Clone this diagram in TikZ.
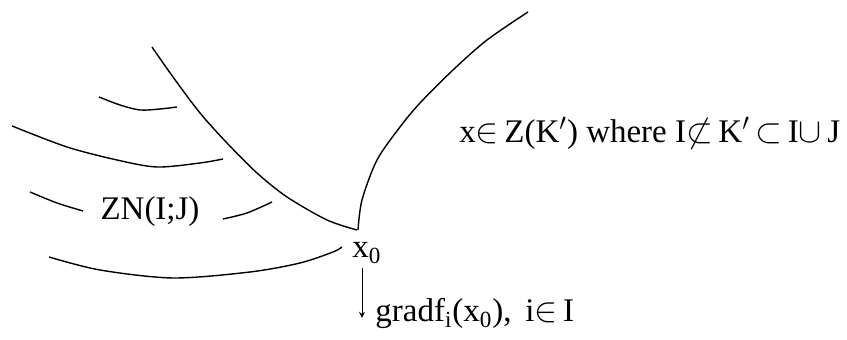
\documentclass[tikz,border=0pt]{standalone}
\usepackage{fontspec}
\setmainfont{Liberation Serif}

\tikzset{
	curve/.style={line width=0.7pt},
	lbl/.style={inner sep=0pt, font=\fontsize{16.5}{19}\selectfont},
}

\begin{document}
\begin{tikzpicture}[x=0.5pt,y=-0.5pt]
	\useasboundingbox (0,0) rectangle (847,340);
	% boundaries meeting at x_0
	\draw[curve] plot[smooth] coordinates {(152,47) (173,77) (200,113) (227,143) (257,173) (287,197) (327,220) (357,230)};
	\draw[curve] plot[smooth] coordinates {(358,230) (362,200) (377,160) (400,127) (420,103) (453,70) (487,40) (528,12)};
	% level curves
	\draw[curve] plot[smooth] coordinates {(99,97) (120,105) (140,110) (160,109) (177,107)};
	\draw[curve] plot[smooth] coordinates {(12,126) (67,147) (117,160) (157,167) (200,163) (223,159)};
	\draw[curve] plot[smooth] coordinates {(30,192) (57,203) (83,211)};
	\draw[curve] plot[smooth] coordinates {(223,219) (247,213) (272,202)};
	\draw[curve] plot[smooth] coordinates {(49,257) (100,270) (173,278) (250,272) (300,263) (333,252) (342,247)};
	% labels
	\node[lbl] (zn) at (150,212) {ZN(I;J)};
	\node[lbl, anchor=base west] (x0) at (352,258) {x\textsubscript{0}};
	\node[lbl, anchor=base west] (zk) at (459,143) {x$\in$\,Z(K$'$) where I$\not\subset$\,K$'$\,$\subset$\,I$\cup$\,J};
	\node[lbl, anchor=base west] (grad) at (375,322) {gradf\textsubscript{i}(x\textsubscript{0}), \,i$\in$\,I};
	\coordinate (tip) at (362,318);
	\draw[->, >=stealth] (x0.south -| tip) ++(0,4) -- (tip);
\end{tikzpicture}
\end{document}
